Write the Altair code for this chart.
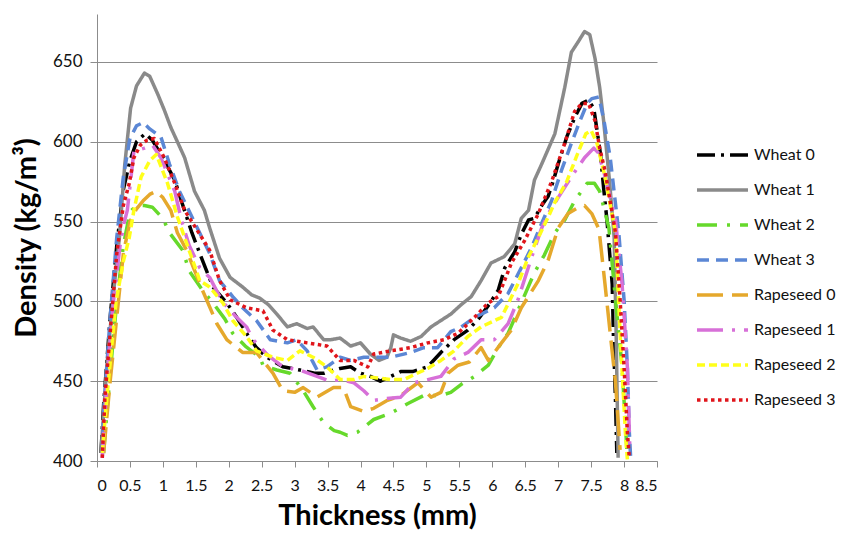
import altair as alt
import pandas as pd

series_names = ["Wheat 0", "Wheat 1", "Wheat 2", "Wheat 3",
                "Rapeseed 0", "Rapeseed 1", "Rapeseed 2", "Rapeseed 3"]
series_colors = ["#000000", "#8a8a8a", "#66d92b", "#5b87d5",
                 "#e5a82c", "#d770d8", "#ffff1a", "#e0151b"]
series_dashes = [[18, 6, 3, 6], [1, 0], [20, 10, 3, 10], [12, 7],
                 [26, 9], [26, 9, 3, 9], [8, 4], [3.5, 3.5]]

# Wheat 0
w0_x = [0.06, 0.1, 0.2, 0.3, 0.4, 0.5, 0.6, 0.73, 0.84, 1.0, 1.18, 1.28, 1.44, 1.56, 1.76, 1.97, 2.12, 2.27,
        2.42, 2.58, 2.82, 3.08, 3.3, 3.45, 3.59, 3.69, 3.85, 4.0, 4.15, 4.3, 4.46, 4.61, 4.79, 5.02, 5.22,
        5.42, 5.63, 5.79, 5.95, 6.09, 6.19, 6.34, 6.44, 6.55, 6.64, 6.75, 6.85, 6.93, 7.0, 7.13, 7.25, 7.36,
        7.46, 7.54, 7.59, 7.64, 7.69, 7.74, 7.82, 7.84, 7.87, 7.89]
w0_y = [405, 435, 490, 535, 570, 588, 600, 605, 601, 590, 576, 563, 543, 530, 509, 499, 490, 480,
        471, 465, 459, 457, 455, 455, 457, 458, 459, 455, 453, 450, 453, 456, 456, 459, 468,
        476, 482, 489, 498, 507, 521, 531, 542, 551, 552, 560, 566, 576, 586, 603, 615, 624,
        626, 621, 607, 593, 571, 551, 511, 476, 438, 405]

# Wheat 1
w1_x = [0.06, 0.15, 0.25, 0.34, 0.42, 0.51, 0.6, 0.72, 0.8, 0.92, 1.02, 1.12, 1.22, 1.33, 1.48, 1.63, 1.71,
        1.86, 2.02, 2.21, 2.35, 2.47, 2.6, 2.73, 2.89, 3.03, 3.19, 3.28, 3.44, 3.55, 3.69, 3.85, 4.0, 4.15,
        4.28, 4.4, 4.46, 4.5, 4.61, 4.76, 4.92, 5.07, 5.22, 5.37, 5.53, 5.68, 5.83, 5.98, 6.18, 6.34, 6.44,
        6.55, 6.64, 6.75, 6.95, 7.1, 7.2, 7.31, 7.4, 7.48, 7.56, 7.63, 7.69, 7.74, 7.78, 7.85, 7.88, 7.91]
w1_y = [405, 460, 505, 540, 585, 621, 635, 643, 641, 630, 620, 609, 600, 590, 569, 557, 546,
        527, 515, 509, 504, 502, 498, 492, 484, 486, 483, 484, 476, 476, 477, 472, 474, 467,
        463, 465, 471, 479, 477, 475, 478, 484, 488, 492, 498, 503, 513, 524, 528, 536, 552,
        557, 576, 586, 605, 634, 656, 663, 669, 667, 652, 634, 613, 592, 575, 540, 480, 402]

# Wheat 2
w2_x = [0.1, 0.2, 0.3, 0.4, 0.5, 0.6, 0.72, 0.84, 1.0, 1.1, 1.3, 1.4, 1.6, 1.76, 1.94, 2.06, 2.25, 2.47,
        2.52, 2.73, 2.93, 3.13, 3.28, 3.44, 3.6, 3.69, 3.8, 3.95, 4.2, 4.46, 4.72, 4.96, 5.22, 5.37, 5.53,
        5.73, 5.94, 6.09, 6.24, 6.45, 6.64, 6.79, 6.95, 7.1, 7.25, 7.44, 7.55, 7.63, 7.77, 7.87, 7.97, 8.05]
w2_y = [405, 455, 500, 535, 556, 560, 560, 559, 552, 543, 532, 519, 507, 499, 489, 480, 472, 465,
        460, 457, 455, 444, 434, 424, 419, 418, 416, 418, 426, 430, 436, 441, 441, 443, 448,
        453, 460, 471, 480, 500, 518, 529, 543, 551, 563, 574, 574, 569, 546, 501, 459, 402]

# Wheat 3
w3_x = [0.08, 0.1, 0.2, 0.3, 0.4, 0.5, 0.6, 0.7, 0.8, 0.97, 1.1, 1.25, 1.44, 1.71, 1.86, 2.06, 2.21, 2.42,
        2.63, 2.89, 3.03, 3.19, 3.34, 3.49, 3.69, 3.85, 4.05, 4.26, 4.46, 4.76, 4.96, 5.17, 5.37, 5.53,
        5.73, 6.03, 6.24, 6.44, 6.6, 6.75, 6.9, 7.05, 7.2, 7.33, 7.44, 7.51, 7.62, 7.7, 7.79, 7.92, 8.0,
        8.05, 8.08, 8.1]
w3_y = [405, 430, 490, 540, 578, 602, 610, 612, 608, 603, 586, 569, 553, 530, 513, 503, 496, 488,
        476, 474, 476, 469, 457, 459, 465, 463, 465, 465, 465, 468, 471, 471, 481, 484,
        490, 496, 505, 521, 534, 549, 563, 582, 599, 613, 624, 627, 628, 612, 590, 543, 501,
        459, 418, 402]

# Rapeseed 0
r0_x = [0.1, 0.2, 0.3, 0.4, 0.5, 0.6, 0.7, 0.8, 0.9, 1.0, 1.12, 1.22, 1.36, 1.6, 1.82, 1.97, 2.21, 2.42,
        2.67, 2.82, 3.0, 3.13, 3.34, 3.59, 3.74, 3.85, 4.05, 4.2, 4.41, 4.61, 4.87, 5.07, 5.22, 5.33, 5.48,
        5.65, 5.83, 5.94, 6.14, 6.29, 6.44, 6.7, 6.85, 7.0, 7.15, 7.31, 7.4, 7.51, 7.62, 7.71, 7.79, 7.87,
        7.94]
r0_y = [405, 450, 490, 530, 550, 558, 563, 567, 569, 565, 557, 543, 532, 507, 486, 476, 468, 468,
        455, 444, 443, 446, 440, 446, 446, 434, 431, 433, 438, 441, 449, 440, 443, 455, 460,
        462, 471, 463, 474, 482, 496, 513, 526, 546, 555, 559, 560, 555, 545, 511, 480, 449,
        407]

# Rapeseed 1
r1_x = [0.08, 0.15, 0.25, 0.35, 0.41, 0.46, 0.56, 0.72, 0.84, 0.97, 1.18, 1.28, 1.4, 1.56, 1.71, 1.9, 2.12,
        2.27, 2.37, 2.6, 2.82, 3.08, 3.34, 3.54, 3.69, 3.9, 4.05, 4.2, 4.38, 4.61, 4.81, 5.02, 5.22, 5.42,
        5.63, 5.83, 6.03, 6.24, 6.39, 6.6, 6.75, 6.85, 7.0, 7.2, 7.4, 7.54, 7.61, 7.7, 7.87, 7.97, 8.05,
        8.09]
r1_y = [402, 450, 500, 535, 549, 557, 594, 596, 598, 590, 569, 551, 535, 521, 515, 500, 490,
        484, 476, 466, 459, 457, 453, 450, 451, 449, 444, 438, 439, 440, 449, 451, 453, 464,
        468, 476, 476, 486, 501, 528, 546, 555, 565, 578, 590, 596, 593, 580, 551, 511, 459,
        405]

# Rapeseed 2
r2_x = [0.08, 0.15, 0.29, 0.4, 0.49, 0.56, 0.67, 0.8, 0.9, 1.07, 1.22, 1.33, 1.56, 1.71, 1.91, 2.06, 2.27,
        2.42, 2.67, 2.89, 3.08, 3.28, 3.49, 3.69, 3.9, 4.05, 4.26, 4.46, 4.66, 4.81, 5.02, 5.22, 5.42, 5.63,
        5.83, 6.14, 6.39, 6.55, 6.7, 6.85, 6.95, 7.13, 7.28, 7.42, 7.5, 7.59, 7.7, 7.87, 7.94, 8.02, 8.05]
r2_y = [405, 440, 500, 525, 540, 557, 578, 588, 592, 574, 553, 540, 513, 509, 499, 488, 478,
        469, 465, 463, 469, 465, 459, 451, 451, 453, 452, 451, 451, 454, 458, 463, 469, 478,
        484, 490, 511, 528, 540, 553, 562, 575, 591, 605, 607, 599, 580, 543, 480, 418, 401]

# Rapeseed 3
r3_x = [0.08, 0.12, 0.2, 0.3, 0.4, 0.49, 0.56, 0.66, 0.76, 0.87, 1.02, 1.18, 1.33, 1.59, 1.71, 1.86, 2.02,
        2.27, 2.52, 2.67, 2.89, 3.19, 3.49, 3.69, 3.9, 4.11, 4.2, 4.46, 4.76, 5.02, 5.27, 5.48, 5.73, 5.94,
        6.09, 6.29, 6.49, 6.7, 6.9, 7.1, 7.25, 7.36, 7.46, 7.56, 7.63, 7.71, 7.87, 7.94, 8.0, 8.05, 8.08]
r3_y = [402, 440, 480, 530, 560, 574, 590, 598, 601, 602, 590, 574, 557, 540, 532, 513, 501,
        496, 494, 482, 476, 474, 472, 463, 463, 459, 467, 469, 471, 474, 476, 480, 490, 499,
        503, 524, 538, 555, 575, 599, 619, 624, 624, 613, 596, 582, 543, 501, 459, 418, 402]

x_lists = [w0_x, w1_x, w2_x, w3_x, r0_x, r1_x, r2_x, r3_x]
y_lists = [w0_y, w1_y, w2_y, w3_y, r0_y, r1_y, r2_y, r3_y]

x_ticks = [0, 0.5, 1, 1.5, 2, 2.5, 3, 3.5, 4, 4.5, 5, 5.5, 6, 6.5, 7, 7.5, 8, 8.5]
y_ticks = [400, 450, 500, 550, 600, 650]

rows = []
for name, xs, ys in zip(series_names, x_lists, y_lists):
    for i, (xv, yv) in enumerate(zip(xs, ys)):
        rows.append({"series": name, "x": xv, "y": yv, "i": i})
df = pd.DataFrame(rows)

FONT = "Lato"
AX = "#8c8c8c"

legend_opts = dict(title=None, orient="none", legendX=598, legendY=131,
                   symbolType="stroke", symbolSize=2600, symbolStrokeWidth=3.5,
                   clipHeight=20, rowPadding=15, labelFontSize=16,
                   labelOffset=4, labelColor="#111")

chart = alt.Chart(df).mark_line(strokeWidth=3.5, strokeJoin="round").encode(
    x=alt.X("x:Q", title="Thickness (mm)",
            scale=alt.Scale(domain=[0, 8.5], nice=False, zero=False),
            axis=alt.Axis(values=x_ticks, labelExpr="'' + datum.value", grid=False,
                          tickSize=6, tickColor=AX, domainColor=AX, labelPadding=10,
                          labelFontSize=16, titleFontSize=29, titlePadding=8,
                          labelColor="#111", titleColor="#000")),
    y=alt.Y("y:Q", title="Density (kg/m³)",
            scale=alt.Scale(domain=[400, 680], nice=False, zero=False),
            axis=alt.Axis(values=y_ticks, grid=True, gridColor=AX, gridWidth=1,
                          tickSize=7, tickColor=AX, domainColor=AX, labelPadding=8,
                          labelFontSize=17, titleFontSize=29, titlePadding=11,
                          labelColor="#111", titleColor="#000")),
    color=alt.Color("series:N", scale=alt.Scale(domain=series_names, range=series_colors),
                    legend=alt.Legend(**legend_opts)),
    strokeDash=alt.StrokeDash("series:N", scale=alt.Scale(domain=series_names, range=series_dashes),
                              legend=alt.Legend(**legend_opts)),
    order=alt.Order("i:Q"),
).properties(
    width=560, height=447,
    autosize=alt.AutoSizeParams(type="none"),
    padding={"left": 89, "top": 6, "right": 183, "bottom": 74},
).configure(font=FONT).configure_axis(
    titleFontWeight="bold", labelFont=FONT, titleFont=FONT
).configure_legend(labelFont=FONT).configure_view(stroke=None)

chart.save("out.html", embed_options={"renderer": "svg", "actions": False})
